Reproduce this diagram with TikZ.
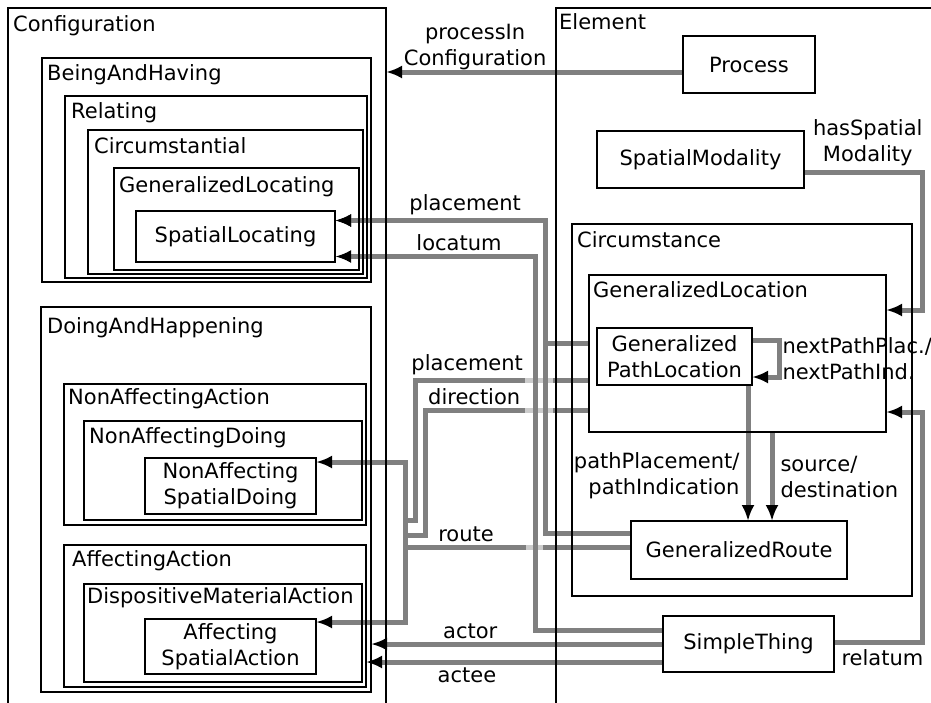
\documentclass[tikz,border=0pt]{standalone}
\usepackage{fontspec}
\setmainfont{DejaVu Sans}
\usetikzlibrary{arrows.meta}
\pgfdeclarelayer{background}
\pgfsetlayers{background,main}

\tikzset{
  box/.style={draw, line width=1.2pt, inner sep=0pt, outer sep=0pt, align=center},
  title/.style={anchor=base west, inner sep=0pt},
  wire/.style={draw=gray, line width=5pt},
  conn/.style={wire, -{Latex[length=16pt, width=13pt, color=black]}},
  bridge/.style={draw=black!20, line width=5pt},
  lbl/.style={inner sep=3pt, align=center}
}

\begin{document}
\begin{tikzpicture}[x=1pt, y=-1pt, font=\fontsize{21}{26}\selectfont]
  \useasboundingbox (0,0) rectangle (931,702);
  \clip (0,0) rectangle (931,702);

  % Configuration side
  \node[box, minimum width=378pt, minimum height=712pt] (config) at (197,364) {};
  \node[title] (configt) at ([shift={(5,23)}]config.north west) {Configuration};
  \node[box, minimum width=329pt, minimum height=224pt] (beinghav) at (206.5,170) {};
  \node[title] (beinghavt) at ([shift={(5,22)}]beinghav.north west) {BeingAndHaving};
  \node[box, minimum width=302pt, minimum height=182pt] (relating) at (216,187) {};
  \node[title] (relatingt) at ([shift={(6,22)}]relating.north west) {Relating};
  \node[box, minimum width=275pt, minimum height=144pt] (circstl) at (225.5,202) {};
  \node[title] (circstlt) at ([shift={(6,23)}]circstl.north west) {Circumstantial};
  \node[box, minimum width=245pt, minimum height=102pt] (genlocating) at (236.5,219) {};
  \node[title] (genlocatingt) at ([shift={(5,24)}]genlocating.north west) {GeneralizedLocating};
  \node[box, minimum width=199pt, minimum height=51pt] (spatloc) at (235.5,236.5) {SpatialLocating};

  \node[box, minimum width=330pt, minimum height=385pt] (doinghap) at (206,499.5) {};
  \node[title] (doinghapt) at ([shift={(6,26)}]doinghap.north west) {DoingAndHappening};
  \node[box, minimum width=302pt, minimum height=141pt] (nonaffaction) at (215,454.5) {};
  \node[title] (nonaffactiont) at ([shift={(4,20)}]nonaffaction.north west) {NonAffectingAction};
  \node[box, minimum width=278pt, minimum height=99pt] (nonaffdoing) at (223,470.5) {};
  \node[title] (nonaffdoingt) at ([shift={(5,22)}]nonaffdoing.north west) {NonAffectingDoing};
  \node[box, minimum width=171pt, minimum height=56pt] (nasd) at (230.5,486) {NonAffecting\\SpatialDoing};
  \node[box, minimum width=302pt, minimum height=142pt] (affaction) at (215,616) {};
  \node[title] (affactiont) at ([shift={(8,21)}]affaction.north west) {AffectingAction};
  \node[box, minimum width=278pt, minimum height=98pt] (dispmat) at (223,633) {};
  \node[title] (dispmatt) at ([shift={(3,19)}]dispmat.north west) {DispositiveMaterialAction};
  \node[box, minimum width=171pt, minimum height=55pt] (asa) at (230.5,646.5) {Affecting\\SpatialAction};

  % Element side
  \node[box, minimum width=389pt, minimum height=712pt] (element) at (750.5,364) {};
  \node[title] (elementt) at ([shift={(3,21)}]element.north west) {Element};
  \node[box, minimum width=132pt, minimum height=57pt] (proc) at (749,64.5) {Process};
  \node[box, minimum width=207pt, minimum height=57pt] (spmod) at (700.5,159.5) {SpatialModality};
  \node[box, minimum width=340pt, minimum height=372pt] (circum) at (742,410) {};
  \node[title] (circumt) at ([shift={(5,23)}]circum.north west) {Circumstance};
  \node[box, minimum width=297pt, minimum height=157pt] (genloc) at (737.5,353.5) {};
  \node[title] (genloct) at ([shift={(4,22)}]genloc.north west) {GeneralizedLocation};
  \node[box, minimum width=155pt, minimum height=57pt] (genpath) at (674.5,356.5) {Generalized\\PathLocation};
  \node[box, minimum width=216pt, minimum height=58pt] (genroute) at (739,550) {GeneralizedRoute};
  \node[box, minimum width=171pt, minimum height=56pt] (simthing) at (748.5,644) {SimpleThing};

  \begin{pgfonlayer}{background}
    % processInConfiguration
    \draw[conn] ([shift={(0,7.5)}]proc.west) -- node[lbl, above, pos=0.7, yshift=-3pt] (procinl) {processIn\\Configuration} ([shift={(0,64)}]config.north east);
    % hasSpatialModality, relatum
    \draw[conn] ([shift={(0,12.5)}]spmod.east) -| node[lbl, above, pos=0.27, yshift=1pt] (hasspl) {hasSpatial\\Modality} ([shift={(36,-43.5)}]genloc.east) -- ([shift={(0,-43.5)}]genloc.east);
    \draw[conn] ([shift={(0,-2)}]simthing.east) node[lbl, below right, xshift=2pt, yshift=-2pt] (relatuml) {relatum} -| ([shift={(36,58.5)}]genloc.east) -- ([shift={(0,58.5)}]genloc.east);

    % trunk to the doing boxes
    \coordinate (trunktop) at ([shift={(89,-24)}]nasd.east);
    \coordinate (trunkbot) at ([shift={(89,-24.5)}]asa.east);
    \draw[wire] ([shift={(0,27)}]genloc.west) -| node[lbl, above, pos=0.35] (plcl) {placement} ([shift={(10,58)}]trunktop) -- ([shift={(0,58)}]trunktop);
    \draw[wire] ([shift={(0,57)}]genloc.west) -| node[lbl, above, pos=0.35] (dirl) {direction} ([shift={(20,73)}]trunktop) -- ([shift={(0,73)}]trunktop);
    \draw[wire] ([shift={(0,-3)}]genroute.west) -- node[lbl, above, pos=0.73] (routel) {route} ([shift={(0,85)}]trunktop);
    \draw[conn] (trunkbot) -- (trunktop) -- (trunktop -| nasd.east);
    \draw[conn] (trunktop) -- (trunkbot) -- (trunkbot -| asa.east);
    % light parts under the crossing lines
    \draw[bridge] ([shift={(-64,27)}]genloc.west) -- ([shift={(-36,27)}]genloc.west);
    \draw[bridge] ([shift={(-64,57)}]genloc.west) -- ([shift={(-36,57)}]genloc.west);
    \draw[bridge] ([shift={(-105,-3)}]genroute.west) -- ([shift={(-88,-3)}]genroute.west);

    % placement, locatum
    \draw[conn] ([shift={(0,-10)}]genloc.west) -| ([shift={(210,-16)}]spatloc.east) -- ([shift={(0,-16)}]spatloc.east);
    \draw[conn] ([shift={(0,-17)}]genroute.west) -| ([shift={(210,-16)}]spatloc.east) -- node[lbl, above, pos=0.38] (plcu) {placement} ([shift={(0,-16)}]spatloc.east);
    \draw[conn] ([shift={(0,-14)}]simthing.west) -| ([shift={(200,20)}]spatloc.east) -- node[lbl, above, pos=0.38] (locl) {locatum} ([shift={(0,20)}]spatloc.east);

    % paths into the route
    \draw[conn] ([shift={(-4,0)}]genpath.south east) -- node[lbl, left, pos=0.67, align=right, xshift=-3pt] (pathl) {pathPlacement/\\pathIndication} ([shift={(117,0)}]genroute.north west);
    \draw[conn] ([shift={(34.5,0)}]genloc.south) -- node[lbl, right, pos=0.5, align=left, xshift=3pt] (srcl) {source/\\destination} ([shift={(141,0)}]genroute.north west);
    \draw[conn] ([shift={(0,-16.5)}]genpath.east) -| node[lbl, right, pos=0.75, align=left, inner sep=0pt, xshift=1pt] (nextl) {nextPathPlac./\\nextPathInd.} ([shift={(27,20.5)}]genpath.east) -- ([shift={(0,20.5)}]genpath.east);

    % actor, actee
    \draw[conn] (simthing.west) -- node[lbl, above, pos=0.66] (actorl) {actor} (simthing.west -| doinghap.east);
    \draw[conn] ([shift={(0,18)}]simthing.west) -- node[lbl, below, pos=0.66] (acteel) {actee} ([shift={(0,46)}]affaction.east);
  \end{pgfonlayer}
\end{tikzpicture}
\end{document}
